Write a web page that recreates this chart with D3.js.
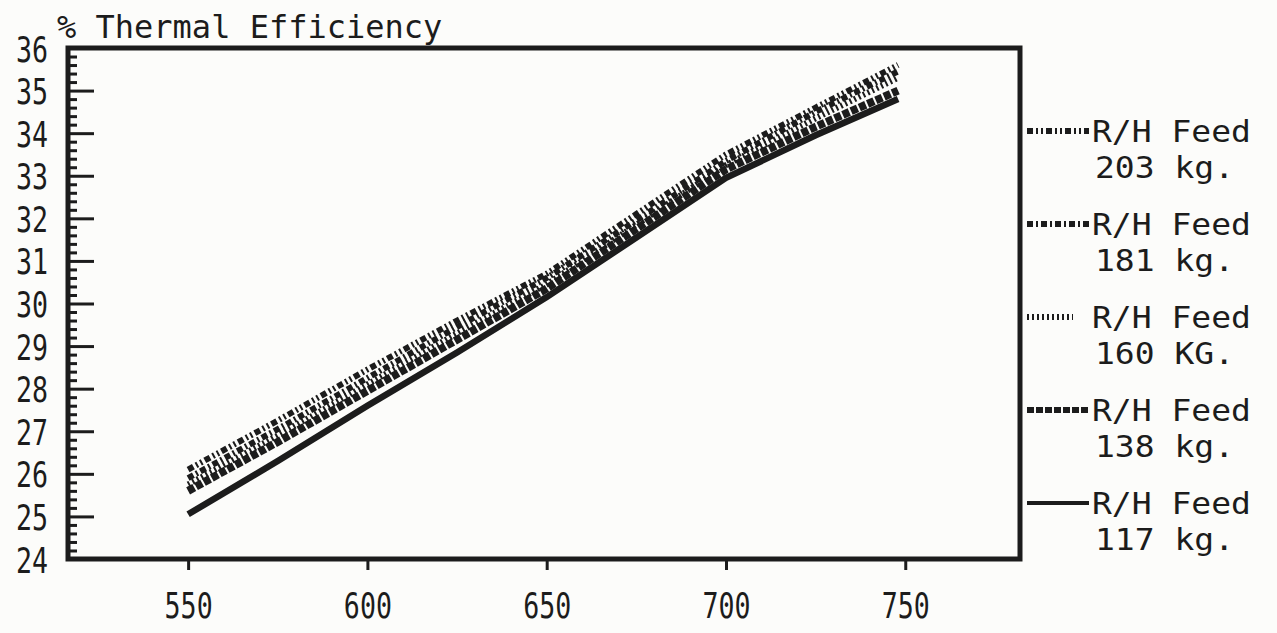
<!DOCTYPE html>
<html>
<head>
<meta charset="utf-8">
<script src="https://cdn.jsdelivr.net/npm/d3@7/dist/d3.min.js"></script>
<style>
html, body { margin: 0; padding: 0; background: #fcfcfa; }
svg { display: block; }
text { font-family: "DejaVu Sans Mono", monospace; fill: #1c1c1c; }
.axis path { display: none; }
.axis line { stroke: #1c1c1c; stroke-width: 3; }
</style>
</head>
<body>
<svg width="1277" height="633"></svg>
<script>

// feed temperature points (x axis) and thermal efficiency per R/H feed
var feedTemp = [550, 575, 600, 625, 650, 675, 700, 725, 748];
var eff203 = [26.1, 27.25, 28.45, 29.6, 30.7, 32.1, 33.5, 34.6, 35.6];
var eff181 = [25.9, 27.05, 28.25, 29.45, 30.6, 31.95, 33.35, 34.5, 35.45];
var eff160 = [25.75, 26.9, 28.1, 29.3, 30.45, 31.85, 33.25, 34.35, 35.3];
var eff138 = [25.6, 26.75, 27.95, 29.15, 30.35, 31.75, 33.15, 34.15, 35.0];
var eff117 = [25.05, 26.3, 27.6, 28.85, 30.15, 31.55, 32.95, 33.95, 34.8];

var legendTop = ["R/H Feed", "R/H Feed", "R/H Feed", "R/H Feed", "R/H Feed"];
var legendBottom = ["203 kg.", "181 kg.", "160 KG.", "138 kg.", "117 kg."];

var xTicks = [550, 600, 650, 700, 750];
var yTicks = [24, 25, 26, 27, 28, 29, 30, 31, 32, 33, 34, 35, 36];

var series = [eff203, eff181, eff160, eff138, eff117];

// line looks, same order as series
var looks = [
  { dash: "6,3,2,3,2,3", width: 6 },
  { dash: "6,3,2,3", width: 6 },
  { dash: "2,3", width: 6 },
  { dash: "7,2", width: 8 },
  { dash: null, width: 6.5 }
];

var ink = "#1c1c1c";

var svg = d3.select("svg");

var x = d3.scaleLinear().domain([516.5, 782]).range([68, 1020]);
var y = d3.scaleLinear().domain([24, 36]).range([559, 48]);

// title
svg.append("text")
    .attr("x", 57)
    .attr("y", 38)
    .style("font-size", "32px")
    .text("% Thermal Efficiency");

// x axis
var xAxis = svg.append("g")
    .attr("class", "axis")
    .attr("transform", "translate(0," + y(24) + ")")
    .call(d3.axisBottom(x).tickValues(xTicks).tickSize(11).tickFormat(d3.format("d")));

xAxis.selectAll("text")
    .attr("y", 0)
    .attr("dy", 0)
    .attr("transform", "translate(0,59) scale(0.74,1)")
    .style("font-size", "36px")
    .attr("fill", ink);

// y axis, minor ticks first
var minor = d3.range(24, 36.001, 0.2).filter(function(d) { return Math.abs(d - Math.round(d)) > 0.01; });

svg.append("g")
    .attr("class", "axis")
    .attr("transform", "translate(" + x.range()[0] + ",0)")
    .call(d3.axisLeft(y).tickValues(minor).tickSize(-9).tickFormat(""));

var yAxis = svg.append("g")
    .attr("class", "axis")
    .attr("transform", "translate(" + x.range()[0] + ",0)")
    .call(d3.axisLeft(y).tickValues(yTicks).tickSize(-26).tickFormat(d3.format("d")));

yAxis.selectAll("text")
    .attr("x", 0)
    .attr("dy", 0)
    .attr("transform", "translate(-20,13) scale(0.74,1)")
    .style("font-size", "36px")
    .attr("fill", ink);

// frame
svg.append("rect")
    .attr("x", x.range()[0])
    .attr("y", y(36))
    .attr("width", x.range()[1] - x.range()[0])
    .attr("height", y(24) - y(36))
    .attr("fill", "none")
    .attr("stroke", ink)
    .attr("stroke-width", 5);

// lines
var line = d3.line()
    .x(function(d) { return x(d[0]); })
    .y(function(d) { return y(d[1]); });

series.forEach(function(vals, i) {
  var pts = feedTemp.map(function(t, j) { return [t, vals[j]]; });
  svg.append("path")
      .attr("d", line(pts))
      .attr("fill", "none")
      .attr("stroke", ink)
      .attr("stroke-width", looks[i].width)
      .attr("stroke-dasharray", looks[i].dash);
});

// legend
var leg = svg.append("g").attr("transform", "translate(1027,131)");

legendTop.forEach(function(t, i) {
  var row = leg.append("g").attr("transform", "translate(0," + (i * 93) + ")");
  row.append("line")
      .attr("x1", 0)
      .attr("x2", i == 2 ? 46 : 62)
      .attr("y1", 0)
      .attr("y2", 0)
      .attr("stroke", ink)
      .attr("stroke-width", i == 4 ? 4 : 6)
      .attr("stroke-dasharray", looks[i].dash);
  row.append("text")
      .attr("transform", "translate(65,11) scale(1.1,1)")
      .style("font-size", "30px")
      .text(t);
  row.append("text")
      .attr("transform", "translate(68,47) scale(1.1,1)")
      .style("font-size", "30px")
      .text(legendBottom[i]);
});

</script>
</body>
</html>
